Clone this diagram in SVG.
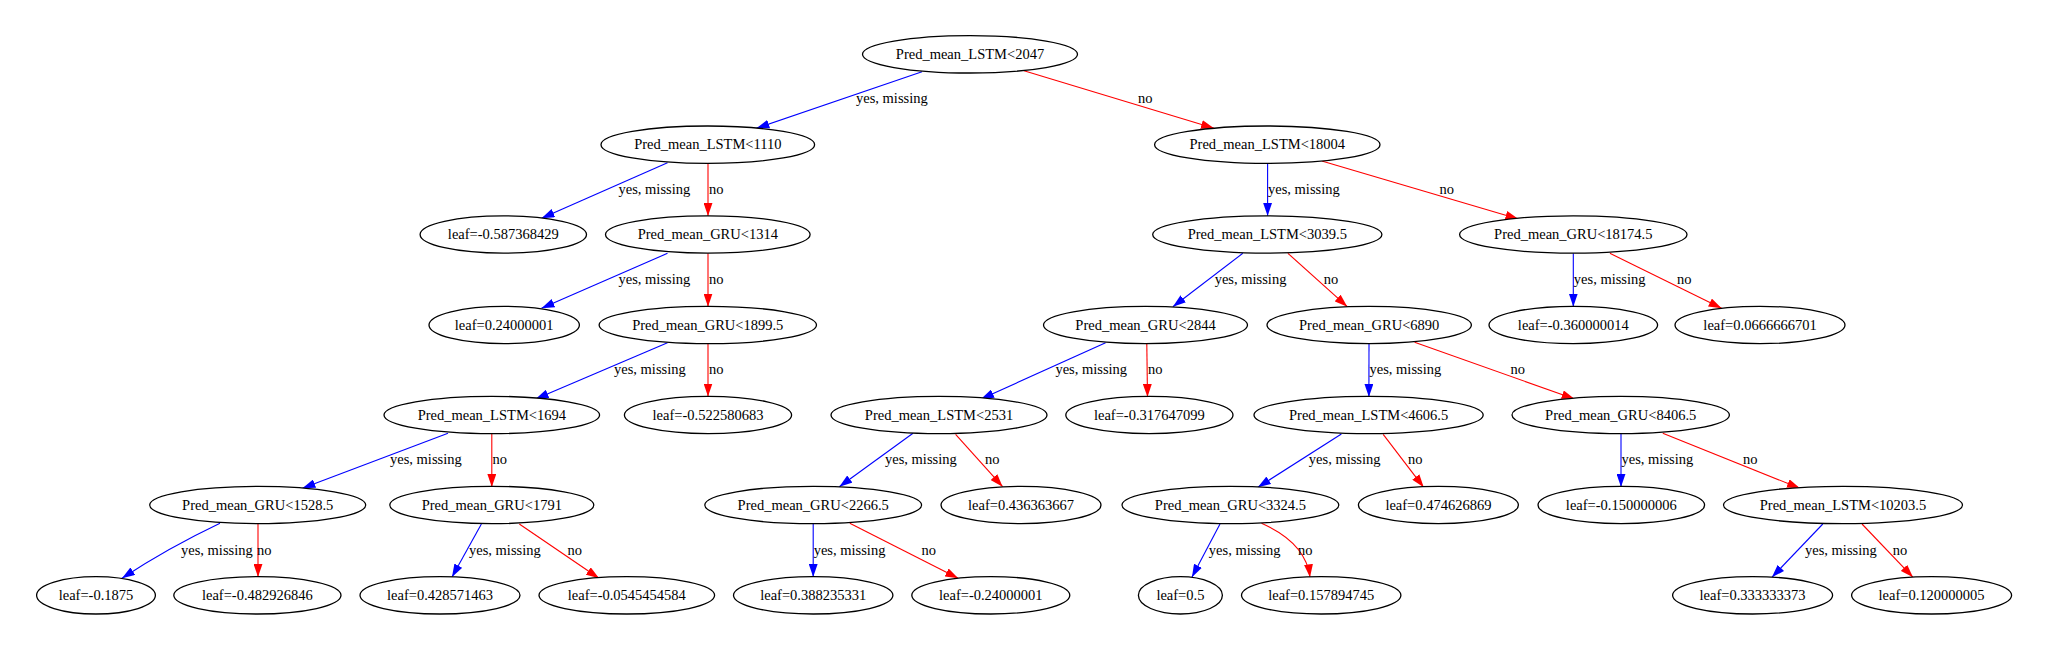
<svg xmlns="http://www.w3.org/2000/svg" width="2048" height="651" viewBox="0 0 2048 651">
<style>
.node ellipse{fill:#fff;stroke:#000;stroke-width:1.3}
text{font-family:"Liberation Serif","Times New Roman",serif;font-size:14.5px;fill:#000}
.node text{text-anchor:middle}
.yes{stroke:#0000ff;stroke-width:1.1;fill:none;marker-end:url(#ab)}
.no{stroke:#ff0000;stroke-width:1.1;fill:none;marker-end:url(#ar)}
</style>
<defs>
<marker id="ab" markerUnits="userSpaceOnUse" markerWidth="13" markerHeight="9" viewBox="0 0 12 8.2" refX="12" refY="4.1" orient="auto"><path d="M0,0 L12,4.1 L0,8.2 z" fill="#0000ff"/></marker>
<marker id="ar" markerUnits="userSpaceOnUse" markerWidth="13" markerHeight="9" viewBox="0 0 12 8.2" refX="12" refY="4.1" orient="auto"><path d="M0,0 L12,4.1 L0,8.2 z" fill="#ff0000"/></marker>
</defs>
<rect width="2048" height="651" fill="#fff"/>
<g id="edges">
<path class="yes" d="M922,71.7 L756.4,128.3"/><text x="856" y="103.3">yes, missing</text>
<path class="no" d="M1024,70.7 L1214,128.3"/><text x="1138" y="103.3">no</text>
<path class="yes" d="M667.5,162.7 L541.5,218.3"/><text x="618.5" y="194">yes, missing</text>
<path class="no" d="M708,163.3 L708,216"/><text x="709" y="194">no</text>
<path class="yes" d="M667.5,253.3 L541.5,308.3"/><text x="618.5" y="284">yes, missing</text>
<path class="no" d="M708,253.3 L708,306.7"/><text x="709" y="284">no</text>
<path class="yes" d="M667.5,342.7 L535.6,399"/><text x="614" y="374">yes, missing</text>
<path class="no" d="M708,344 L708,396.5"/><text x="709" y="374">no</text>
<path class="yes" d="M448,433.3 L302.4,488.3"/><text x="390" y="464">yes, missing</text>
<path class="no" d="M491.8,433.5 L491.8,487"/><text x="492.5" y="464">no</text>
<path class="yes" d="M220,523.3 Q168,548 122,578.3"/><text x="181" y="554.7">yes, missing</text>
<path class="no" d="M258,524 L258,577"/><text x="257" y="554.7">no</text>
<path class="yes" d="M481.4,524 L452,577"/><text x="469" y="554.7">yes, missing</text>
<path class="no" d="M519.3,524 L599,578.3"/><text x="567.6" y="554.7">no</text>
<path class="yes" d="M1267.6,163.3 L1267.6,216"/><text x="1268" y="194">yes, missing</text>
<path class="no" d="M1321.8,161 L1518.4,219"/><text x="1439.4" y="194">no</text>
<path class="yes" d="M1242.8,253.3 L1172.9,306.7"/><text x="1214.7" y="284">yes, missing</text>
<path class="no" d="M1287.9,253.3 L1347.3,306.7"/><text x="1323.8" y="284">no</text>
<path class="yes" d="M1573.3,253.3 L1573.3,306.7"/><text x="1573.8" y="284">yes, missing</text>
<path class="no" d="M1609.9,253.3 L1721.6,308.3"/><text x="1677" y="284">no</text>
<path class="yes" d="M1105.6,342.7 L981,399"/><text x="1055.4" y="374">yes, missing</text>
<path class="no" d="M1146.8,344 L1147.5,397"/><text x="1148" y="374">no</text>
<path class="yes" d="M1369,344 L1368.9,397"/><text x="1369.5" y="374">yes, missing</text>
<path class="no" d="M1414.6,342.3 L1574.6,399"/><text x="1510.6" y="374">no</text>
<path class="yes" d="M913,433.3 L839.3,486.7"/><text x="885" y="464">yes, missing</text>
<path class="no" d="M955.6,434.3 L1002.6,486.7"/><text x="985" y="464">no</text>
<path class="yes" d="M1341.4,434 L1257.8,487.3"/><text x="1308.8" y="464">yes, missing</text>
<path class="no" d="M1383.2,434.3 L1423.7,487.3"/><text x="1408" y="464">no</text>
<path class="yes" d="M1621,434 L1621,487"/><text x="1621.5" y="464">yes, missing</text>
<path class="no" d="M1662.8,433.3 L1800,488.3"/><text x="1743" y="464">no</text>
<path class="yes" d="M813.2,524 L813.2,577"/><text x="813.7" y="554.7">yes, missing</text>
<path class="no" d="M849.8,523.3 L958.2,578.3"/><text x="921.6" y="554.7">no</text>
<path class="yes" d="M1220,524 L1191.9,577.3"/><text x="1208.8" y="554.7">yes, missing</text>
<path class="no" d="M1261.5,523.3 Q1306,543 1310,577.3"/><text x="1298" y="554.7">no</text>
<path class="yes" d="M1822.8,524 L1771.9,577.3"/><text x="1805" y="554.7">yes, missing</text>
<path class="no" d="M1862,524 L1913,577.3"/><text x="1892.7" y="554.7">no</text>
</g>
<g id="n0" class="node"><ellipse cx="970" cy="54.3" rx="107.5" ry="18.7"/><text x="970" y="59">Pred_mean_LSTM&lt;2047</text></g>
<g id="n1" class="node"><ellipse cx="707.8" cy="144.7" rx="106.8" ry="18.7"/><text x="707.8" y="149.4">Pred_mean_LSTM&lt;1110</text></g>
<g id="n2" class="node"><ellipse cx="1267.3" cy="144.7" rx="112.7" ry="18.7"/><text x="1267.3" y="149.4">Pred_mean_LSTM&lt;18004</text></g>
<g id="n3" class="node"><ellipse cx="503.3" cy="234.5" rx="83.2" ry="18.7"/><text x="503.3" y="239.2">leaf=-0.587368429</text></g>
<g id="n4" class="node"><ellipse cx="707.8" cy="234.5" rx="102.3" ry="18.7"/><text x="707.8" y="239.2">Pred_mean_GRU&lt;1314</text></g>
<g id="n5" class="node"><ellipse cx="1267.3" cy="234.5" rx="114.6" ry="18.7"/><text x="1267.3" y="239.2">Pred_mean_LSTM&lt;3039.5</text></g>
<g id="n6" class="node"><ellipse cx="1573.3" cy="234.5" rx="113.7" ry="18.7"/><text x="1573.3" y="239.2">Pred_mean_GRU&lt;18174.5</text></g>
<g id="n7" class="node"><ellipse cx="504.2" cy="325" rx="75.2" ry="18.7"/><text x="504.2" y="329.7">leaf=0.24000001</text></g>
<g id="n8" class="node"><ellipse cx="707.8" cy="325" rx="108.7" ry="18.7"/><text x="707.8" y="329.7">Pred_mean_GRU&lt;1899.5</text></g>
<g id="n9" class="node"><ellipse cx="1145.5" cy="325" rx="102" ry="18.7"/><text x="1145.5" y="329.7">Pred_mean_GRU&lt;2844</text></g>
<g id="n10" class="node"><ellipse cx="1369.2" cy="325" rx="102.2" ry="18.7"/><text x="1369.2" y="329.7">Pred_mean_GRU&lt;6890</text></g>
<g id="n11" class="node"><ellipse cx="1573.3" cy="325" rx="84.3" ry="18.7"/><text x="1573.3" y="329.7">leaf=-0.360000014</text></g>
<g id="n12" class="node"><ellipse cx="1760" cy="325" rx="85" ry="18.7"/><text x="1760" y="329.7">leaf=0.0666666701</text></g>
<g id="n13" class="node"><ellipse cx="491.8" cy="415" rx="107.8" ry="18.7"/><text x="491.8" y="419.7">Pred_mean_LSTM&lt;1694</text></g>
<g id="n14" class="node"><ellipse cx="708" cy="415" rx="83.6" ry="18.7"/><text x="708" y="419.7">leaf=-0.522580683</text></g>
<g id="n15" class="node"><ellipse cx="939" cy="415" rx="108" ry="18.7"/><text x="939" y="419.7">Pred_mean_LSTM&lt;2531</text></g>
<g id="n16" class="node"><ellipse cx="1149.4" cy="415" rx="83.6" ry="18.7"/><text x="1149.4" y="419.7">leaf=-0.317647099</text></g>
<g id="n17" class="node"><ellipse cx="1368.6" cy="415" rx="114.6" ry="18.7"/><text x="1368.6" y="419.7">Pred_mean_LSTM&lt;4606.5</text></g>
<g id="n18" class="node"><ellipse cx="1620.7" cy="415" rx="108.7" ry="18.7"/><text x="1620.7" y="419.7">Pred_mean_GRU&lt;8406.5</text></g>
<g id="n19" class="node"><ellipse cx="257.7" cy="505" rx="108" ry="18.7"/><text x="257.7" y="509.7">Pred_mean_GRU&lt;1528.5</text></g>
<g id="n20" class="node"><ellipse cx="491.8" cy="505" rx="102" ry="18.7"/><text x="491.8" y="509.7">Pred_mean_GRU&lt;1791</text></g>
<g id="n21" class="node"><ellipse cx="813.2" cy="505" rx="108.4" ry="18.7"/><text x="813.2" y="509.7">Pred_mean_GRU&lt;2266.5</text></g>
<g id="n22" class="node"><ellipse cx="1021" cy="505" rx="80" ry="18.7"/><text x="1021" y="509.7">leaf=0.436363667</text></g>
<g id="n23" class="node"><ellipse cx="1230.4" cy="505" rx="108.4" ry="18.7"/><text x="1230.4" y="509.7">Pred_mean_GRU&lt;3324.5</text></g>
<g id="n24" class="node"><ellipse cx="1438.4" cy="505" rx="80" ry="18.7"/><text x="1438.4" y="509.7">leaf=0.474626869</text></g>
<g id="n25" class="node"><ellipse cx="1621.3" cy="505" rx="83.3" ry="18.7"/><text x="1621.3" y="509.7">leaf=-0.150000006</text></g>
<g id="n26" class="node"><ellipse cx="1843" cy="505" rx="119.5" ry="18.7"/><text x="1843" y="509.7">Pred_mean_LSTM&lt;10203.5</text></g>
<g id="n27" class="node"><ellipse cx="96" cy="595.3" rx="59.4" ry="18.7"/><text x="96" y="600">leaf=-0.1875</text></g>
<g id="n28" class="node"><ellipse cx="257.4" cy="595.3" rx="83.6" ry="18.7"/><text x="257.4" y="600">leaf=-0.482926846</text></g>
<g id="n29" class="node"><ellipse cx="440" cy="595.3" rx="80" ry="18.7"/><text x="440" y="600">leaf=0.428571463</text></g>
<g id="n30" class="node"><ellipse cx="626.8" cy="595.3" rx="87.8" ry="18.7"/><text x="626.8" y="600">leaf=-0.0545454584</text></g>
<g id="n31" class="node"><ellipse cx="813.2" cy="595.3" rx="79.7" ry="18.7"/><text x="813.2" y="600">leaf=0.388235331</text></g>
<g id="n32" class="node"><ellipse cx="990.8" cy="595.3" rx="79" ry="18.7"/><text x="990.8" y="600">leaf=-0.24000001</text></g>
<g id="n33" class="node"><ellipse cx="1180.4" cy="595.3" rx="42" ry="18.7"/><text x="1180.4" y="600">leaf=0.5</text></g>
<g id="n34" class="node"><ellipse cx="1321.2" cy="595.3" rx="79.7" ry="18.7"/><text x="1321.2" y="600">leaf=0.157894745</text></g>
<g id="n35" class="node"><ellipse cx="1752.6" cy="595.3" rx="80" ry="18.7"/><text x="1752.6" y="600">leaf=0.333333373</text></g>
<g id="n36" class="node"><ellipse cx="1931.6" cy="595.3" rx="80" ry="18.7"/><text x="1931.6" y="600">leaf=0.120000005</text></g>
</svg>
